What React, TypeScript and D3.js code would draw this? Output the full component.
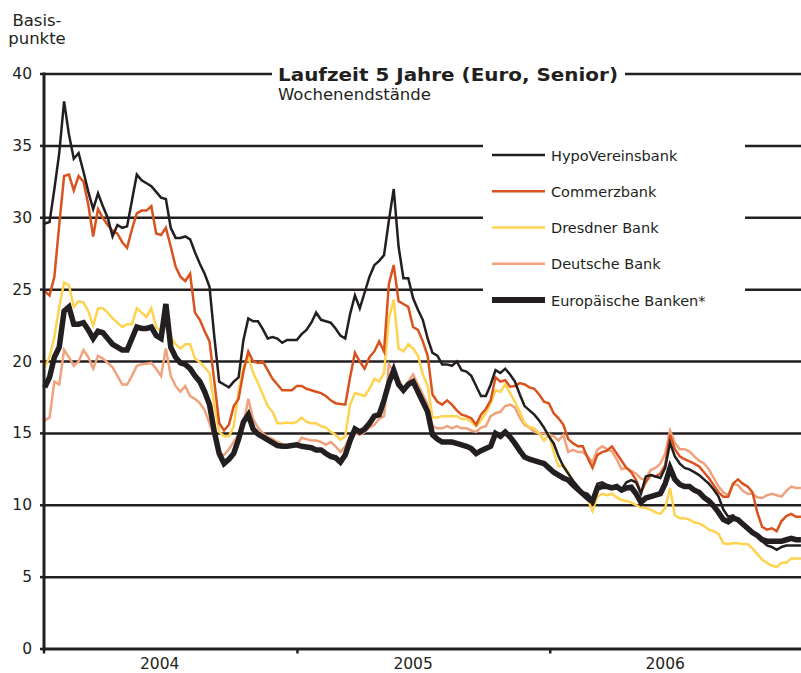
import React from "react";
import * as d3 from "d3";

// Weekly observation dates (Fridays, 2004–2006)
const weeks: Date[] = d3.timeFriday.range(new Date(2004, 0, 1), new Date(2007, 0, 1));

const yTicks = [0, 5, 10, 15, 20, 25, 30, 35, 40];
const yearBounds = [new Date(2004, 0, 1), new Date(2005, 0, 1), new Date(2006, 0, 1), new Date(2007, 0, 1)];
const yearLabels = ["2004", "2005", "2006"];
const yearLabelDates = [new Date(2004, 5, 16), new Date(2005, 5, 17), new Date(2006, 5, 16)];

const hypo = [
  29.6, 29.7, 32.0, 34.5, 38.1, 35.8, 34.1, 34.5, 33.2, 31.8,
  30.6, 31.7, 30.8, 30.0, 28.7, 29.5, 29.3, 29.4, 31.2, 33.0,
  32.6, 32.4, 32.2, 31.8, 31.4, 31.3, 29.3, 28.6, 28.6, 28.7,
  28.5, 27.6, 26.8, 26.1, 25.2, 21.7, 18.6, 18.4, 18.2, 18.6,
  18.9, 21.5, 23.0, 22.8, 22.8, 22.25, 21.6, 21.7, 21.6, 21.3,
  21.5, 21.5, 21.5, 21.9, 22.2, 22.7, 23.4, 22.9, 22.8, 22.7,
  22.3, 21.8, 21.6, 23.3, 24.6, 23.7, 24.8, 25.9, 26.7, 27.0,
  27.4, 29.8, 32.0, 28.0, 25.8, 25.8, 24.4, 23.6, 22.9, 21.6,
  20.6, 20.4, 19.8, 19.8, 19.7, 20.0, 19.4, 19.3, 19.0, 18.3,
  17.6, 17.6, 18.4, 19.4, 19.2, 19.5, 19.1, 18.6, 17.7, 16.9,
  16.6, 16.3, 15.9, 15.4, 14.8, 14.3, 13.4, 12.7, 12.2, 11.7,
  11.3, 10.9, 10.8, 10.4, 11.5, 11.6, 11.4, 11.3, 11.2, 11.1,
  11.6, 11.75, 11.6, 10.8, 12.0, 12.1, 12.0, 11.9, 12.6, 14.35,
  13.4, 12.9, 12.6, 12.5, 12.3, 12.1, 11.8, 11.5, 11.1, 10.6,
  9.7, 9.2, 9.3, 9.0, 8.7, 8.5, 8.2, 7.9, 7.5, 7.2,
  7.1, 6.9, 7.1, 7.2, 7.2, 7.2, 7.2,
];

const commerz = [
  24.9, 24.6, 25.9, 29.5, 32.9, 33.0, 31.9, 32.9, 32.5, 30.9,
  28.7, 30.6, 30.0, 29.5, 29.1, 28.9, 28.3, 27.9, 29.2, 30.3,
  30.5, 30.5, 30.8, 28.9, 28.8, 29.3, 28.0, 26.6, 25.9, 25.6,
  26.1, 23.4, 22.9, 22.1, 21.4, 18.6, 15.7, 15.2, 15.6, 16.9,
  17.4, 19.3, 20.7, 20.0, 19.9, 20.0, 19.4, 18.8, 18.4, 18.0,
  18.0, 18.0, 18.3, 18.3, 18.1, 18.0, 17.9, 17.8, 17.6, 17.3,
  17.1, 17.05, 17.0, 18.9, 20.6, 20.0, 19.5, 20.3, 20.7, 21.4,
  20.7, 25.4, 26.7, 24.2, 24.0, 23.8, 22.4, 22.2, 21.4, 20.4,
  17.7, 17.2, 17.0, 17.3, 17.0, 16.6, 16.3, 16.2, 16.05, 15.6,
  16.3, 16.7, 17.3, 18.9, 18.6, 18.7, 18.25, 18.3, 18.5, 18.4,
  18.2, 18.1, 17.7, 17.2, 17.1, 16.4, 16.05, 15.6, 14.6, 14.3,
  14.1, 14.1, 13.3, 12.6, 13.5, 13.7, 13.8, 14.1, 13.6, 13.1,
  12.6, 12.3, 11.75, 10.9, 11.6, 12.1, 12.0, 12.2, 12.8, 14.9,
  13.9, 13.4, 13.2, 13.05, 12.9, 12.7, 12.3, 11.9, 11.4, 10.9,
  10.6, 10.6, 11.5, 11.8, 11.5, 11.3, 10.9, 9.5, 8.5, 8.3,
  8.4, 8.2, 8.9, 9.25, 9.4, 9.2, 9.2,
];

const dresdner = [
  19.6, 20.3, 21.7, 23.8, 25.5, 25.3, 23.8, 24.2, 24.1, 23.5,
  22.5, 23.7, 23.7, 23.4, 23.0, 22.7, 22.4, 22.6, 22.6, 23.7,
  23.4, 23.1, 23.7, 22.4, 22.1, 22.4, 21.7, 21.2, 20.9, 21.2,
  21.2, 20.2, 19.95, 19.6, 19.2, 16.9, 15.1, 14.8, 14.8, 15.5,
  17.9, 19.6, 20.3, 19.2, 18.5, 17.7, 16.9, 16.5, 15.7, 15.7,
  15.75, 15.7, 15.8, 16.1, 15.8, 15.7, 15.7, 15.5, 15.4, 15.1,
  14.9, 14.55, 14.8, 17.0, 17.8, 17.7, 17.6, 18.1, 18.8, 18.6,
  19.2, 23.0, 24.3, 20.9, 20.7, 21.2, 20.9, 20.4, 19.1, 18.3,
  16.1, 16.1, 16.2, 16.2, 16.2, 16.2, 16.0, 16.0, 15.8, 15.5,
  15.9, 16.4, 17.1, 18.0, 17.9, 18.4, 17.8, 17.2, 16.5, 15.7,
  15.45, 15.35, 15.0, 14.5, 14.9, 13.7, 12.7, 12.8, 12.3, 11.7,
  11.1, 10.9, 10.4, 9.6, 10.6, 10.8, 10.7, 10.8, 10.55, 10.36,
  10.3, 10.2, 10.0, 9.85, 9.8, 9.7, 9.5, 9.4, 9.8, 11.2,
  9.3, 9.1, 9.1, 9.0, 8.8, 8.74, 8.55, 8.3, 8.2, 8.0,
  7.35, 7.3, 7.35, 7.35, 7.3, 7.3, 7.0, 6.6, 6.2, 6.0,
  5.8, 5.7, 6.0, 6.0, 6.3, 6.3, 6.3,
];

const deutsche = [
  15.9, 16.1, 18.6, 18.4, 20.8, 20.3, 19.7, 20.0, 20.8, 20.3,
  19.5, 20.4, 20.2, 19.9, 19.6, 19.0, 18.4, 18.4, 19.0, 19.7,
  19.8, 19.85, 19.9, 19.5, 19.0, 20.9, 19.0, 18.3, 17.9, 18.3,
  17.6, 17.4, 17.1, 16.6, 15.7, 14.8, 13.6, 13.5, 13.9, 14.4,
  14.9, 15.6, 17.4, 16.0, 15.4, 15.0, 14.75, 14.6, 14.4, 14.25,
  14.15, 14.1, 14.2, 14.7, 14.6, 14.5, 14.5, 14.4, 14.2, 14.4,
  14.1, 13.7, 14.1, 14.8, 15.0, 14.9, 15.1, 15.4, 15.6, 16.0,
  16.2, 19.8, 19.3, 18.8, 18.1, 18.6, 19.1, 18.4, 17.7, 17.0,
  15.5, 15.35, 15.35, 15.5, 15.35, 15.5, 15.35, 15.35, 15.2, 15.1,
  15.4, 15.5, 16.2, 16.4, 16.5, 16.9, 17.0, 16.8, 16.1, 15.6,
  15.4, 15.1, 15.0, 15.0, 14.9, 14.8, 14.5, 14.9, 13.7, 13.85,
  13.7, 13.7, 13.4, 13.0, 13.85, 14.1, 13.9, 13.75, 13.2, 12.5,
  12.6, 12.4, 12.2, 11.85, 11.8, 12.45, 12.6, 12.9, 13.6, 15.2,
  14.35, 13.9, 13.9, 13.75, 13.4, 13.1, 12.9, 12.5, 11.9, 11.3,
  10.9, 10.7, 11.5, 11.4, 11.0, 10.8, 10.8, 10.55, 10.5, 10.7,
  10.8, 10.7, 10.6, 11.0, 11.3, 11.2, 11.2,
];

const europe = [
  18.2, 18.9, 20.3, 21.0, 23.5, 23.8, 22.6, 22.6, 22.7, 22.2,
  21.6, 22.1, 22.0, 21.6, 21.2, 21.0, 20.8, 20.8, 21.6, 22.4,
  22.3, 22.3, 22.4, 21.8, 21.6, 24.0, 21.0, 20.3, 19.9, 19.8,
  19.5, 19.0, 18.6, 17.9, 17.0, 15.1, 13.6, 12.9, 13.2, 13.6,
  14.6, 15.8, 16.3, 15.3, 14.95, 14.75, 14.55, 14.35, 14.15, 14.1,
  14.1, 14.15, 14.2, 14.1, 14.05, 14.0, 13.85, 13.85, 13.6, 13.4,
  13.3, 13.0, 13.5, 14.5, 15.3, 15.1, 15.3, 15.7, 16.2, 16.3,
  17.3, 18.5, 19.4, 18.4, 18.0, 18.4, 18.6, 17.9, 17.2, 16.5,
  14.9, 14.6, 14.4, 14.4, 14.4, 14.3, 14.2, 14.1, 13.95, 13.6,
  13.8, 13.95, 14.1, 15.0, 14.8, 15.1, 14.75, 14.3, 13.8, 13.35,
  13.2, 13.1, 13.0, 12.9, 12.6, 12.3, 12.1, 11.9, 11.75, 11.4,
  11.1, 10.8, 10.5, 10.25, 11.2, 11.3, 11.3, 11.2, 11.3, 11.05,
  11.2, 11.25, 10.8, 10.2, 10.5, 10.6, 10.7, 10.8, 11.5, 12.6,
  11.8, 11.45, 11.3, 11.3, 11.05, 10.9, 10.55, 10.3, 9.95, 9.5,
  9.0, 8.85, 9.1, 9.0, 8.7, 8.4, 8.1, 7.9, 7.6, 7.5,
  7.5, 7.5, 7.5, 7.6, 7.7, 7.6, 7.6,
];

const seriesNames = ["HypoVereinsbank", "Commerzbank", "Dresdner Bank", "Deutsche Bank", "Europäische Banken*"];
const seriesValues = [hypo, commerz, dresdner, deutsche, europe];
const seriesColors = ["#231f20", "#d9531e", "#ffd24f", "#f0a27c", "#231f20"];
const seriesWidths = [2.5, 2.5, 2.5, 2.5, 5.5];
const drawOrder = [3, 2, 1, 0, 4];

const FONT = "'DejaVu Sans', Verdana, sans-serif";
const INK = "#231f20";

export default function App() {
  const x = d3.scaleTime().domain([yearBounds[0], yearBounds[3]]).range([44, 803]);
  const y = d3.scaleLinear().domain([0, 40]).range([649, 74]);
  const line = d3
    .line<number>()
    .x((_, i) => x(weeks[i]))
    .y((d) => y(d));

  const legendY0 = 155;
  const legendStep = 36.25;

  return (
    <svg
      width={801}
      height={673}
      style={{ position: "absolute", left: 0, top: 0, background: "#fff" }}
      fontFamily={FONT}
    >
      <rect x={0} y={0} width={801} height={673} fill="#fff" />
      {/* y-axis label */}
      <text x={37} y={26} fontSize={16.5} textAnchor="middle" fill={INK}>Basis-</text>
      <text x={37} y={43.5} fontSize={16.5} textAnchor="middle" fill={INK}>punkte</text>

      {/* gridlines */}
      {yTicks.filter((t) => t > 0).map((t) => (
        <line key={"g" + t} x1={44} x2={801} y1={y(t)} y2={y(t)} stroke={INK} strokeWidth={2.5} />
      ))}

      {/* y ticks + labels */}
      {yTicks.map((t) => (
        <g key={"t" + t}>
          <line x1={40} x2={44} y1={y(t)} y2={y(t)} stroke={INK} strokeWidth={2.5} />
          <text x={32} y={y(t) + 5} fontSize={15.5} textAnchor="end" fill={INK}>{t}</text>
        </g>
      ))}

      {/* white boxes for title & legend */}
      <rect x={272} y={64} width={353} height={20} fill="#fff" />
      <rect x={483} y={133} width={262} height={180} fill="#fff" />

      {/* series */}
      {drawOrder.map((k) => (
        <path
          key={"s" + k}
          d={line(seriesValues[k]) || ""}
          fill="none"
          stroke={seriesColors[k]}
          strokeWidth={seriesWidths[k]}
          strokeLinejoin="miter"
          strokeMiterlimit={4}
        />
      ))}

      {/* axes */}
      <line x1={44} x2={44} y1={72.5} y2={650.5} stroke={INK} strokeWidth={3} />
      <line x1={42.5} x2={801} y1={y(0)} y2={y(0)} stroke={INK} strokeWidth={3} />
      {yearBounds.map((d, i) => (
        <line key={"yb" + i} x1={x(d)} x2={x(d)} y1={649} y2={653.5} stroke={INK} strokeWidth={2.5} />
      ))}
      {yearLabels.map((lab, i) => (
        <text key={lab} x={x(yearLabelDates[i])} y={668.5} fontSize={15.5} textAnchor="middle" fill={INK}>{lab}</text>
      ))}

      {/* title */}
      <text x={278} y={81} fontSize={18.5} fontWeight="bold" fill={INK} textLength={340} lengthAdjust="spacingAndGlyphs">
        Laufzeit 5 Jahre (Euro, Senior)
      </text>
      <text x={278} y={100} fontSize={16.5} fill={INK}>Wochenendstände</text>

      {/* legend */}
      {seriesNames.map((name, i) => {
        const ly = legendY0 + i * legendStep;
        return (
          <g key={name}>
            <line x1={492} x2={545} y1={ly} y2={ly} stroke={seriesColors[i]} strokeWidth={i === 4 ? 6 : 2.7} />
            <text x={551} y={ly + 5.5} fontSize={14.5} fill={INK}>{name}</text>
          </g>
        );
      })}
    </svg>
  );
}
